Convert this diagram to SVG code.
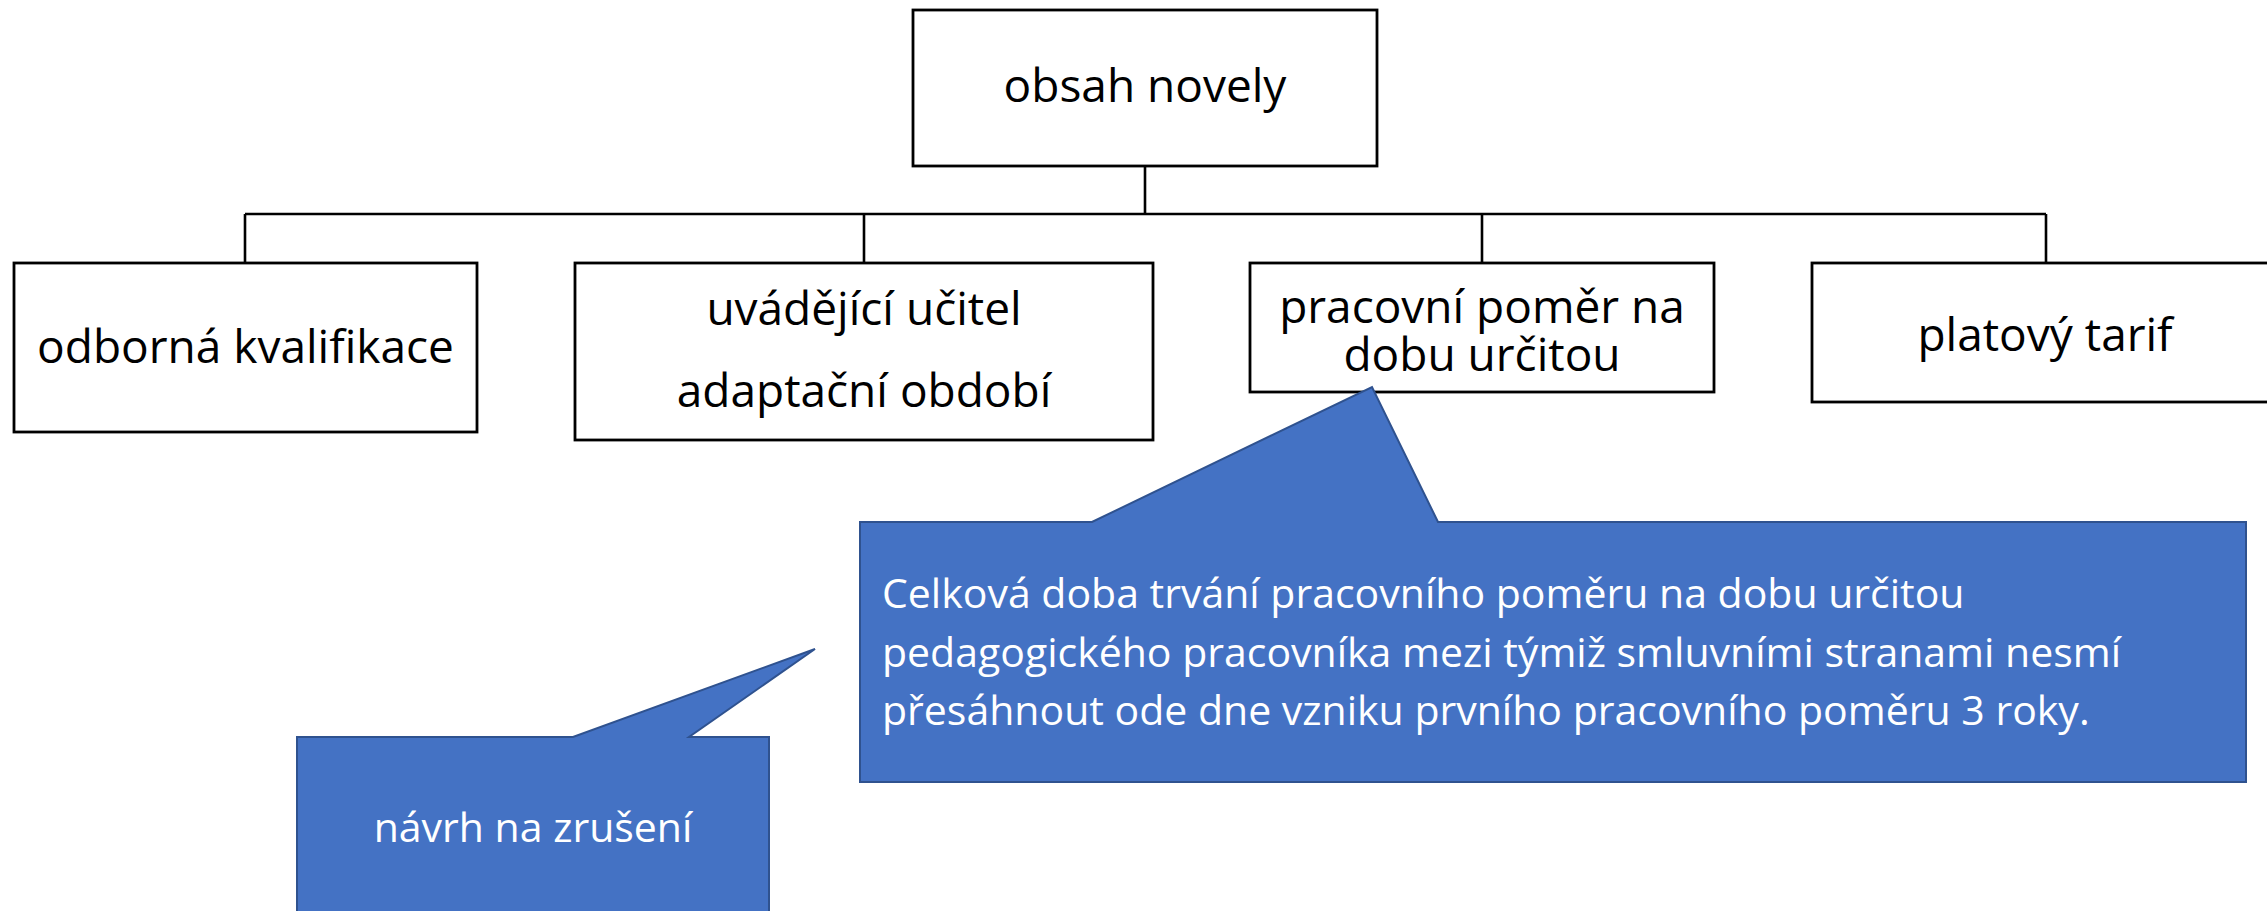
<svg xmlns="http://www.w3.org/2000/svg" width="2267" height="911" viewBox="0 0 2267 911">
<style>
.box{fill:#fff;stroke:#000;stroke-width:2.8}
.conn{fill:none;stroke:#000;stroke-width:2.6}
.t{font-family:"Open Sans","Noto Sans","Liberation Sans",sans-serif;font-size:46px;fill:#000;text-anchor:middle}
.call{fill:#4472C4;stroke:#2F528F;stroke-width:2}
.ct{font-family:"Open Sans","Noto Sans","Liberation Sans",sans-serif;font-size:41px;fill:#fff}
</style>
<rect width="2267" height="911" fill="#fff"/>
<g id="connectors">
<path class="conn" d="M1145,166 V214 M245,214 H2046 M245,214 V263 M864,214 V263 M1482,214 V263 M2046,214 V263"/>
</g>
<g id="node-obsah">
<rect class="box" x="913" y="10" width="464" height="156"/>
<text class="t" x="1145" y="102">obsah novely</text>
</g>
<g id="node-odborna">
<rect class="box" x="14" y="263" width="463" height="169"/>
<text class="t" x="245.5" y="363">odborná kvalifikace</text>
</g>
<g id="node-uvadejici">
<rect class="box" x="575" y="263" width="578" height="177"/>
<text class="t" x="864" y="325">uvádějící učitel</text>
<text class="t" x="864" y="407">adaptační období</text>
</g>
<g id="node-pracovni">
<rect class="box" x="1250" y="263" width="464" height="129"/>
<text class="t" x="1482" y="323">pracovní poměr na</text>
<text class="t" x="1482" y="371">dobu určitou</text>
</g>
<g id="node-platovy">
<rect class="box" x="1812" y="263" width="470" height="139"/>
<text class="t" x="2045" y="351">platový tarif</text>
</g>
<g id="callout-celkova">
<path class="call" d="M860,522 H1092 L1372,387 L1438,522 H2246 V782 H860 Z"/>
<text class="ct" x="882" y="608">Celková doba trvání pracovního poměru na dobu určitou</text>
<text class="ct" x="882" y="667">pedagogického pracovníka mezi týmiž smluvními stranami nesmí</text>
<text class="ct" x="882" y="725">přesáhnout ode dne vzniku prvního pracovního poměru 3 roky.</text>
</g>
<g id="callout-navrh">
<path class="call" d="M297,737 H573 L815,649 L689,737 H769 V920 H297 Z"/>
<text class="ct" x="533" y="842" text-anchor="middle">návrh na zrušení</text>
</g>
</svg>
